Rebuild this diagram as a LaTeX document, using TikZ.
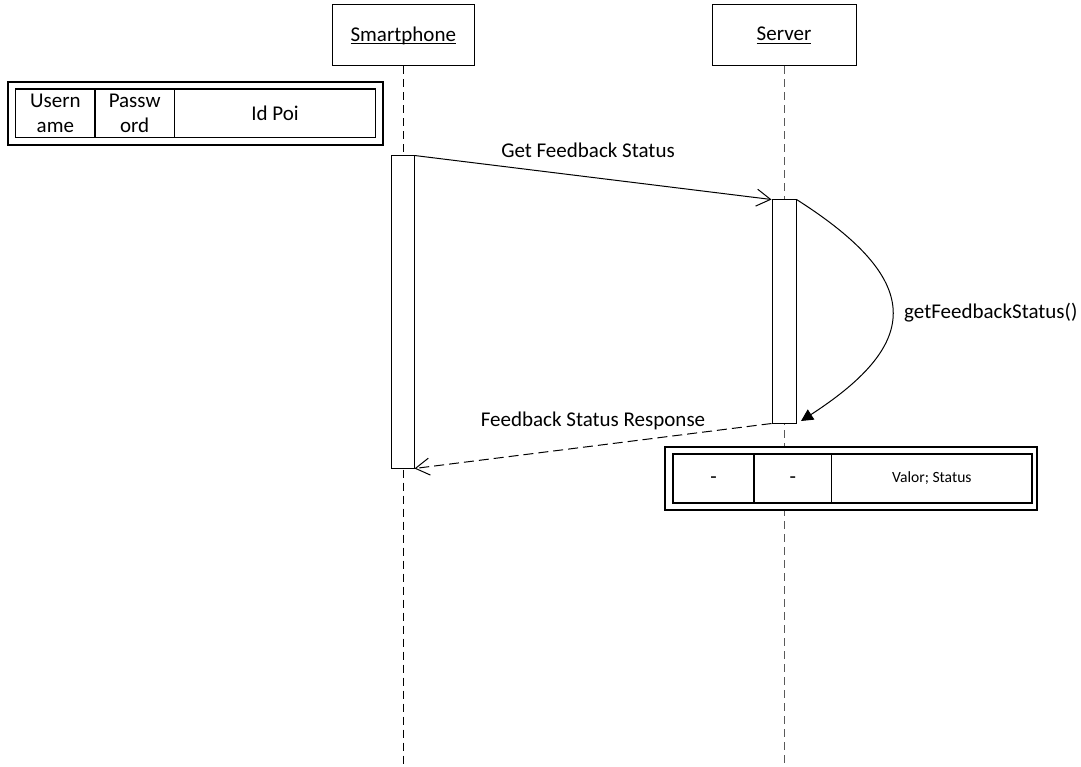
\documentclass[tikz,border=0pt]{standalone}
\usepackage{fontspec}
\setmainfont{Carlito}
\usetikzlibrary{arrows.meta}
\newcommand\ulined[1]{\setbox0=\hbox{#1}\rlap{\rule[-2.6pt]{\wd0}{0.9pt}}\box0}
\begin{document}
\begin{tikzpicture}[x=1pt,y=-1pt,
  font=\fontsize{21}{25.6}\selectfont,
  headbox/.style={draw, line width=1pt, fill=white, inner sep=0pt, minimum width=142pt, minimum height=61pt},
  actbox/.style={draw, line width=1pt, fill=white, inner sep=0pt},
  tbl/.style={draw, line width=1.3pt, fill=white, inner sep=0pt, align=center},
  life/.style={line width=1pt, dash pattern=on 8pt off 5pt},
  msg/.style={line width=1pt, -{Straight Barb[length=14pt,width=17pt]}},
  ret/.style={msg, dash pattern=on 10pt off 5pt},
  lbl/.style={anchor=base, inner sep=0pt}]
\useasboundingbox (0,0) rectangle (1081,767);

% lifeline heads
\node[headbox] (sp) at (403.3,35.5) {\ulined{Smartphone}};
\node[headbox, minimum width=144pt] (sv) at (784,35.3) {\ulined{Server}};
\coordinate (spend) at (403.3,767);
\coordinate (svend) at (784,767);
\draw[life, black] (sp.south) -- (spend);
\draw[life, black!65] (sv.south) -- (svend);

% Username table
\node[tbl, minimum width=375pt, minimum height=63pt] (uo) at (195.5,113.5) {};
\node[tbl, minimum width=79.3pt, minimum height=48.7pt] (u1) at (55.35,113.35) {Usern\\ame};
\node[tbl, minimum width=79.3pt, minimum height=48.7pt] (u2) at (134.65,113.35) {Passw\\ord};
\node[tbl, minimum width=201.4pt, minimum height=48.7pt] (u3) at (275,113.35) {Id Poi};

% activations
\node[actbox, minimum width=23pt, minimum height=312pt] (spact) at (402.5,312) {};
\node[actbox, minimum width=24pt, minimum height=223pt] (svact) at (784,311.5) {};

% messages
\draw[msg] (spact.north east) -- (svact.north west);
\node[lbl] (l1) at (588,158) {Get Feedback Status};

\coordinate (selfend) at (801,421);
\draw[line width=1pt, -{Triangle[length=12pt,width=12pt]}] (svact.north east) .. controls (923,280) and (923,342) .. (selfend);
\node[lbl, anchor=base west] (l2) at (904,318) {getFeedbackStatus()};

\draw[ret] (svact.south west) -- (spact.south east);
\node[lbl] (l3) at (593,426) {Feedback Status Response};

% Valor table
\node[tbl, minimum width=372pt, minimum height=63pt] (vo) at (851,478.5) {};
\node[tbl, minimum width=81pt, minimum height=49pt] (v1) at (713.5,478.5) {\strut -};
\node[tbl, minimum width=77.7pt, minimum height=49pt] (v2) at (792.85,478.5) {\strut -};
\node[tbl, minimum width=200.3pt, minimum height=49pt, font=\fontsize{15.6}{19}\selectfont] (v3) at (931.85,478.5) {Valor; Status};
\end{tikzpicture}
\end{document}
